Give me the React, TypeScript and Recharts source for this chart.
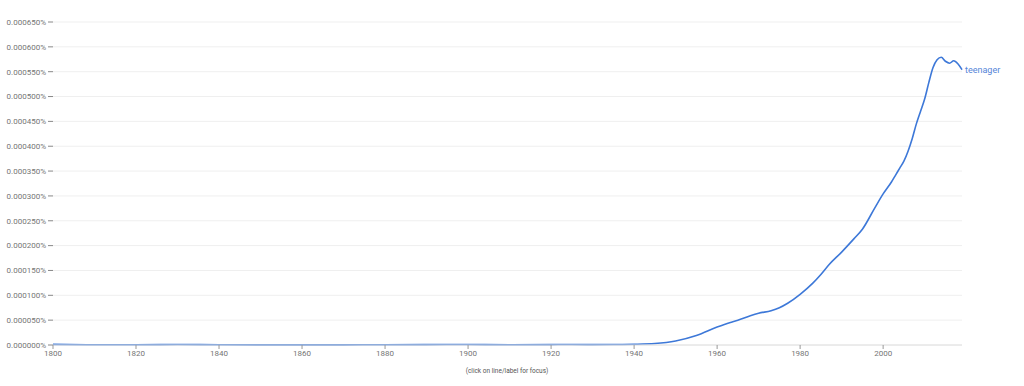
import { LineChart, Line, XAxis, YAxis, CartesianGrid } from 'recharts'

const years = [
  1800, 1810, 1820, 1830, 1840, 1850, 1860, 1870, 1880, 1890, 1900, 1910, 1920, 1925, 1930, 1935,
  1940, 1945, 1950, 1955, 1960, 1963, 1965, 1968, 1970, 1973, 1975, 1977, 1980, 1983, 1985, 1987,
  1990, 1993, 1995, 1998, 2000, 2002, 2003, 2004, 2005, 2006, 2007, 2008, 2009, 2010, 2011, 2012,
  2013, 2014, 2015, 2016, 2017, 2018, 2019,
]

// percent of corpus
const teenager = [
  0.0000012, 0.0000005, 0.0000005, 0.000001, 0.0000005, 0.0000003, 0.0000003, 0.0000003, 0.0000005,
  0.0000008, 0.000001, 0.0000005, 0.0000008, 0.000001, 0.0000008, 0.000001,
  0.0000015, 0.000003, 0.000008, 0.000019, 0.000036, 0.000045, 0.00005, 0.000059, 0.000064, 0.000069,
  0.000075, 0.000084, 0.000102, 0.000124, 0.000142, 0.000162,
  0.000187, 0.000214, 0.000233, 0.000276, 0.000304, 0.000328, 0.000342, 0.000356, 0.00037, 0.00039,
  0.000415, 0.000445, 0.00047, 0.000495, 0.000528, 0.000558,
  0.000574, 0.000579, 0.000571, 0.000567, 0.000572, 0.000566, 0.000554,
]

const xTicks = [1800, 1820, 1840, 1860, 1880, 1900, 1920, 1940, 1960, 1980, 2000]
const yTicks = [
  0, 0.00005, 0.0001, 0.00015, 0.0002, 0.00025, 0.0003, 0.00035, 0.0004, 0.00045, 0.0005, 0.00055,
  0.0006, 0.00065,
]

const seriesName = 'teenager'
const lineColor = '#3d78d8'

const data = years.map((year, i) => ({ year, teenager: teenager[i] }))

function EndLabel(props: any) {
  const { x, y, index } = props
  if (index !== data.length - 1) return null
  return (
    <text x={x + 3} y={y} dy={3} fontSize={9} fill="#5585d8" fontFamily="Roboto">
      {seriesName}
    </text>
  )
}

export default function App() {
  const tickStyle = { fontSize: 8, fill: '#757575', fontFamily: 'Roboto' }
  return (
    <div style={{ position: 'absolute', left: 0, top: 0, width: 1024, height: 386, background: '#fff' }}>
      <LineChart width={1024} height={386} data={data} margin={{ top: 22, right: 62, left: 0, bottom: 0 }}>
        <CartesianGrid vertical={false} stroke="#efefef" />
        <XAxis
          dataKey="year"
          type="number"
          domain={[1800, 2019]}
          ticks={xTicks}
          height={41}
          tick={tickStyle}
          tickSize={4}
          tickMargin={1}
          tickLine={{ stroke: '#999' }}
          axisLine={{ stroke: '#e0e0e0' }}
        />
        <YAxis
          type="number"
          domain={[0, 0.00065]}
          ticks={yTicks}
          width={53}
          tick={tickStyle}
          tickSize={5}
          tickMargin={2}
          tickLine={{ stroke: '#888' }}
          axisLine={false}
          tickFormatter={(v: number) => v.toFixed(6) + '%'}
        />
        <Line
          type="monotone"
          dataKey="teenager"
          stroke={lineColor}
          strokeWidth={1.6}
          dot={false}
          label={<EndLabel />}
          isAnimationActive={false}
        />
      </LineChart>
      <div
        style={{
          position: 'absolute',
          left: 0,
          width: 1014,
          top: 367,
          textAlign: 'center',
          fontSize: 6.5,
          color: '#555',
          fontFamily: 'Roboto',
        }}
      >
        (click on line/label for focus)
      </div>
    </div>
  )
}
